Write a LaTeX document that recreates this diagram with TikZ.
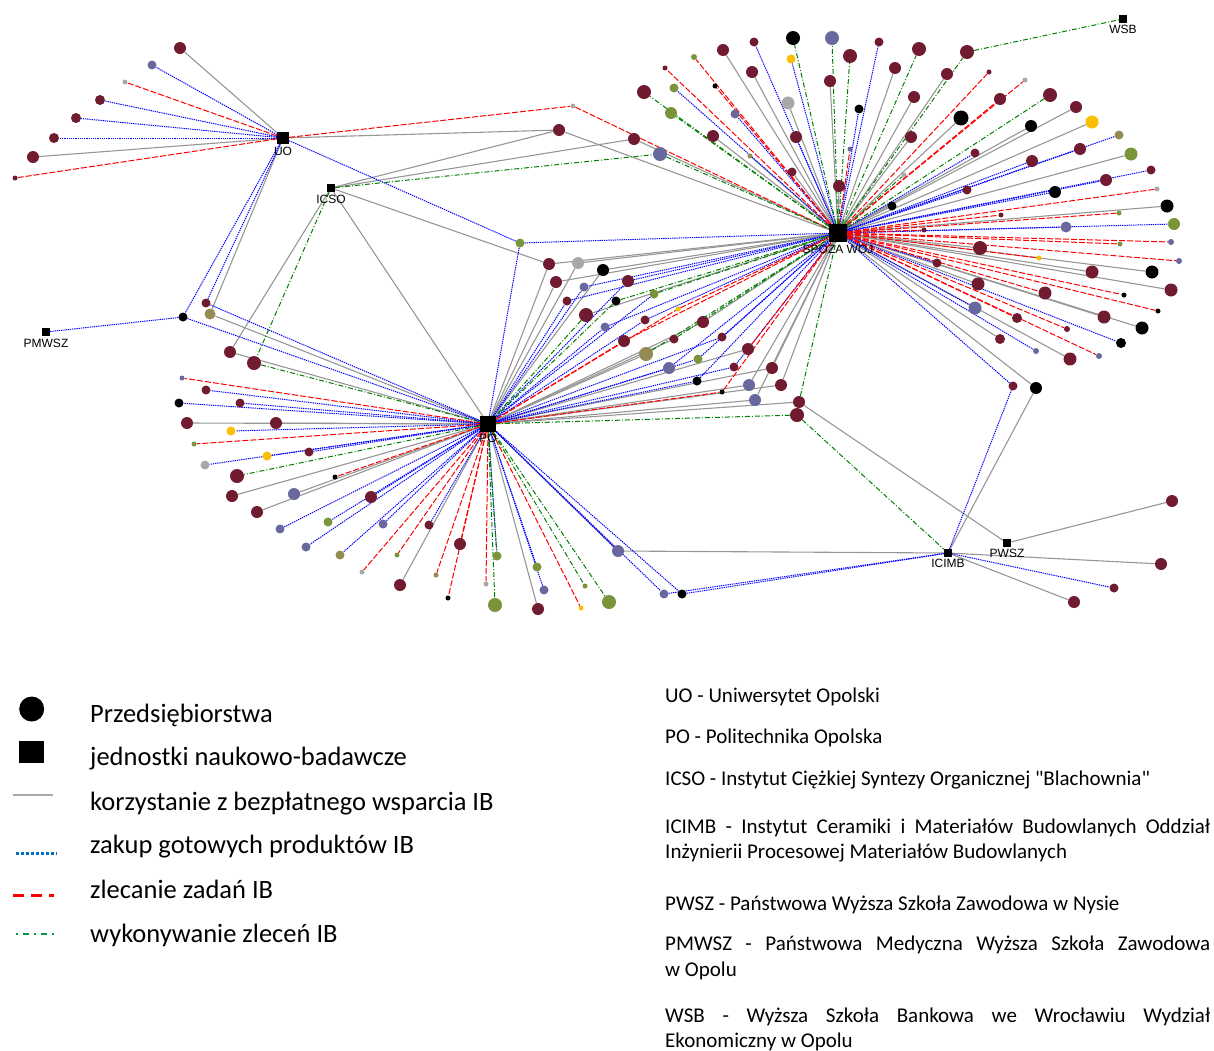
\documentclass[tikz,border=0pt]{standalone}
\usepackage{fontspec}
\setmainfont{Carlito}
\newfontfamily\notefont{Carlito}
\newfontfamily\labelfont{Liberation Sans}
\usetikzlibrary{positioning}
\usetikzlibrary{backgrounds}

\definecolor{mar}{RGB}{112,27,47}
\definecolor{sla}{RGB}{104,104,158}
\definecolor{oli}{RGB}{122,148,58}
\definecolor{kha}{RGB}{148,138,84}
\definecolor{gry}{RGB}{168,168,168}
\definecolor{gld}{RGB}{252,190,0}
\definecolor{freecol}{RGB}{150,150,150}
\definecolor{execcol}{RGB}{0,128,0}
\definecolor{keyblue}{RGB}{0,112,192}
\definecolor{keygreen}{RGB}{0,150,80}

\tikzset{
	firm/.style={circle, inner sep=0pt, minimum size=#1},
	hub/.style={rectangle, fill=black, inner sep=0pt, minimum size=#1},
	hublabel/.style={font=\labelfont\fontsize{12}{14}\selectfont, inner sep=1pt},
	freelink/.style={draw=freecol, line width=1.1pt},
	buylink/.style={draw=blue, line width=1pt, dash pattern=on 1.3pt off 0.9pt},
	orderlink/.style={draw=red, line width=1pt, dash pattern=on 6pt off 2pt},
	execlink/.style={draw=execcol, line width=1pt, dash pattern=on 5pt off 2pt on 1pt off 2pt},
	keytext/.style={font=\notefont\fontsize{26.5}{30}\selectfont, anchor=base west, inner sep=0pt},
	notetext/.style={font=\notefont\fontsize{21}{26}\selectfont, anchor=base west, inner sep=0pt}
}

\begin{document}
\begin{tikzpicture}[x=1pt, y=-1pt]
	\useasboundingbox (0,0) rectangle (1214,1050);

	% research units
	\node[hub=12] (UO) at (283,138) {};
	\node[hub=8] (ICSO) at (331,188) {};
	\node[hub=8] (PMWSZ) at (46,332) {};
	\node[hub=16] (PO) at (488,424) {};
	\node[hub=18] (SP) at (838,233) {};
	\node[hub=8] (ICIMB) at (948,553) {};
	\node[hub=8] (PWSZ) at (1007,543) {};
	\node[hub=8] (WSB) at (1123,19) {};
	\node[hublabel, below=2pt of UO] (UOl) {UO};
	\node[hublabel, below=2pt of ICSO] (ICSOl) {ICSO};
	\node[hublabel, below=2pt of PMWSZ] (PMWSZl) {PMWSZ};
	\node[hublabel, below=1pt of PO] (POl) {PO};
	\node[hublabel, below=2pt of SP] (SPl) {SPOZA WOJ};
	\node[hublabel, below=1pt of ICIMB] (ICIMBl) {ICIMB};
	\node[hublabel, below=1pt of PWSZ] (PWSZl) {PWSZ};
	\node[hublabel, below=1pt of WSB] (WSBl) {WSB};

	% firms, one list per colour: name/x/y/diameter
	\foreach \n/\x/\y/\d in {u1/180/48/12, u4/100/100/10, u5/76/118/10, u6/54/138/10, u7/33/157/12, u8/15/178/5,
		a2/559/130/12, a3/634/139/12, b2/206/303/9, b4/230/352/12, b5/254/363/14,
		m1/549/264/12, m4/556/282/12, m6/628/281/12, m7/567/301/9, m10/586/315/14, m13/645/320/9, m14/703/322/12,
		m15/624/341/12, m16/674/339/9, m17/722/337/9, m19/748/349/12, m22/734/367/9, m23/772/368/12, m26/781/385/12,
		m29/799/402/12, m30/797/415/14,
		p2/206/390/9, p4/240/403/9, p5/187/423/12, p6/276/423/12, p10/309/452/9, p12/237/476/14, p14/232/496/12,
		p16/257/512/12, p18/371/497/12, p24/429/525/9, p26/400/585/12, p28/460/544/12, p35/538/609/12,
		c1/1172/501/12, c2/1161/564/12, c3/1114/588/9, c4/1074/602/12, c5/1013/386/9,
		s1/723/50/12, s2/754/42/9, s5/879/42/9, s6/919/49/14, s7/967/52/14, s9/665/68/5, s11/752/72/12, s12/850/56/14,
		s13/830/81/12, s14/895/68/12, s15/644/92/14, s21/914/97/12, s23/713/136/12, s24/796/137/12, s27/792/172/9,
		s28/911/137/12, s29/839/186/12, s31/947/74/12, s32/989/72/5, s34/1050/95/14, s35/1000/99/12, s37/1076/107/12,
		s41/975/153/9, s42/1080/149/12, s44/1032/161/12, s45/1151/170/9, s46/1106/180/12, s47/967/190/9, s51/1001/215/5,
		s55/924/230/5, s58/980/248/14, s61/937/263/9, s62/1092/272/13, s64/978/284/13, s65/1171/290/13, s66/1045/293/13,
		s70/1017/318/10, s71/1104/317/13, s72/1067/329/6, s74/1000/339/10, s77/1070/359/13}
		\node[firm=\d, fill=mar] (\n) at (\x,\y) {};
	\foreach \n/\x/\y/\d in {u2/152/65/9, a4/660/154/14, m5/584/287/9, m11/605/327/9, m21/669/368/12, m25/749/385/12,
		m28/755/400/12, p1/182/378/5, p15/294/494/12, p17/280/529/9, p20/306/547/9, p21/383/524/9, p34/544/590/9,
		p39/618/551/12, p40/664/594/9, s4/832/38/14, s22/735/114/9, s26/850/149/5, s54/1066/227/11, s56/1171/242/6,
		s59/1179/261/6, s69/975/308/13, s76/1036/351/6, s78/1099/356/6}
		\node[firm=\d, fill=sla] (\n) at (\x,\y) {};
	\foreach \n/\x/\y/\d in {a5/520/243/9, m9/654/294/9, m20/698/359/9, p8/194/444/5, p19/328/522/9, p23/397/555/5,
		p31/497/556/9, p32/495/605/14, p33/537/567/9, p36/585/586/5, p38/609/602/14, s10/694/57/6, s16/674/88/9,
		s18/671/113/12, s43/1131/154/13, s52/1119/213/5, s53/1174/224/12, s57/1120/244/5}
		\node[firm=\d, fill=oli] (\n) at (\x,\y) {};
	\foreach \n/\x/\y/\d in {b3/210/314/11, m18/646/354/14, p22/340/555/9, p27/436/575/5, s25/750/156/5, s40/1119/135/9}
		\node[firm=\d, fill=kha] (\n) at (\x,\y) {};
	\foreach \n/\x/\y/\d in {u3/125/82/5, a1/573/106/5, m2/578/263/12, p11/205/465/9, p25/362/572/5, p30/486/584/5,
		s19/788/103/13, s33/1025/80/5, s49/1157/189/5, s79/904/175/5}
		\node[firm=\d, fill=gry] (\n) at (\x,\y) {};
	\foreach \n/\x/\y/\d in {m12/678/309/5, p7/231/431/9, p9/267/456/9, p37/581/608/5, s8/791/59/9, s38/1092/122/13,
		s60/1039/258/5}
		\node[firm=\d, fill=gld] (\n) at (\x,\y) {};
	\foreach \n/\x/\y/\d in {b1/183/317/9, m3/603/270/12, m8/616/301/9, m24/697/381/9, m27/722/392/5, p3/179/403/9,
		p13/335/477/5, p29/448/598/5, p41/682/594/9, c6/1036/388/12, s3/793/38/14, s17/715/86/5, s20/859/109/9,
		s30/892/206/9, s36/961/118/15, s39/1031/126/12, s48/1055/192/12, s50/1167/206/13, s63/1152/272/13,
		s67/1124/295/5, s68/1158/311/5, s73/1142/328/13, s75/1121/343/10}
		\node[firm=\d, fill=black] (\n) at (\x,\y) {};

	% links
	\begin{scope}[on background layer]
		\foreach \a/\b in {UO/u1, UO/u7, UO/a2, ICSO/a2, a2/SP, ICSO/a3, a3/SP, UO/b3, b3/PO, ICSO/b4, b4/PO, ICSO/PO,
			ICSO/m1, m1/PO, m1/SP, m2/PO, m2/SP, m3/PO, m3/SP, m4/PO, m4/SP, m10/SP, m14/PO, m14/SP, m16/PO, m18/PO,
			m19/PO, m23/PO, m23/SP, m25/PO, m25/SP, m26/PO, m26/SP, m28/PO, m28/SP, m29/PO, m29/PWSZ,
			p39/ICIMB, PWSZ/c1, ICIMB/c2, ICIMB/c4, ICIMB/c6, c6/SP}
			\draw[freelink] (\a) -- (\b);
		\foreach \b in {p5, p6, p14, p15, p16, p26, p35, p39}
			\draw[freelink] (PO) -- (\b);
		\foreach \b in {s1, s11, s13, s14, s19, s21, s23, s25, s27, s28, s29, s30, s31, s36, s37, s38, s39, s43, s50,
			s58, s62, s63, s64, s65, s71, s73, s74, s77}
			\draw[freelink] (SP) -- (\b);

		\foreach \a/\b in {UO/u2, UO/u4, UO/u5, UO/u6, UO/a5, a5/SP, a5/PO, UO/b1, PMWSZ/b1, b1/PO, UO/b2, b2/PO,
			m9/PO, p40/ICIMB, p41/ICIMB, ICIMB/c3, ICIMB/c5, c5/SP}
			\draw[buylink] (\a) -- (\b);
		\foreach \b in {m5, m6, m7, m11, m13, m17, m20, m21, m22, m24}
			{\draw[buylink] (PO) -- (\b); \draw[buylink] (\b) -- (SP);}
		\foreach \b in {p2, p3, p4, p7, p9, p10, p11, p17, p18, p19, p20, p21, p22, p24, p31, p33, p34, p39, p40, p41}
			\draw[buylink] (PO) -- (\b);
		\foreach \b in {s2, s5, s8, s16, s20, s22, s24, s40, s41, s42, s44, s45, s46, s47, s48, s53, s54, s61, s69,
			s75, s76}
			\draw[buylink] (SP) -- (\b);

		\foreach \a/\b in {UO/u3, UO/u8, UO/a1, a1/SP, m19/SP}
			\draw[orderlink] (\a) -- (\b);
		\foreach \b in {m12, m15, m27}
			{\draw[orderlink] (PO) -- (\b); \draw[orderlink] (\b) -- (SP);}
		\foreach \b in {p1, p8, p13, p23, p25, p27, p28, p29, p30, p37}
			\draw[orderlink] (PO) -- (\b);
		\foreach \b in {s9, s10, s17, s26, s32, s33, s35, s49, s51, s52, s55, s56, s57, s59, s60, s66, s67, s68, s70,
			s72, s78}
			\draw[orderlink] (SP) -- (\b);

		\foreach \a/\b in {ICSO/a4, a4/SP, ICSO/b5, b5/PO, m8/PO, m8/SP, m9/SP, m10/PO, m16/SP, m18/SP, m29/SP,
			m30/PO, m30/ICIMB, s7/WSB}
			\draw[execlink] (\a) -- (\b);
		\foreach \b in {p12, p31, p32, p36, p38}
			\draw[execlink] (PO) -- (\b);
		\foreach \b in {s3, s4, s6, s7, s12, s15, s18, s34, s79}
			\draw[execlink] (SP) -- (\b);
	\end{scope}

	% key
	\node[firm=25, fill=black] (kfirm) at (31.7,709) {};
	\node[hub=22, minimum width=25] (kunit) at (31.7,752) {};
	\coordinate (kfreeA) at (13,795);   \coordinate (kfreeB) at (53,795);
	\coordinate (kbuyA) at (16,853);    \coordinate (kbuyB) at (57,853);
	\coordinate (korderA) at (13,895);  \coordinate (korderB) at (54,895);
	\coordinate (kexecA) at (16,934);   \coordinate (kexecB) at (57,934);
	\draw[gry, line width=2.5pt] (kfreeA) -- (kfreeB);
	\draw[keyblue, line width=3pt, dash pattern=on 2.5pt off 2.5pt] (kbuyA) -- (kbuyB);
	\draw[red, line width=3pt, dash pattern=on 11pt off 7pt] (korderA) -- (korderB);
	\draw[keygreen, line width=2.5pt, dash pattern=on 2pt off 5pt on 6pt off 5pt] (kexecA) -- (kexecB);
	\node[keytext] (kt1) at (90,722) {Przedsiębiorstwa};
	\node[keytext] (kt2) at (90,765) {jednostki naukowo-badawcze};
	\node[keytext] (kt3) at (90,810) {korzystanie z bezpłatnego wsparcia IB};
	\node[keytext] (kt4) at (90,853) {zakup gotowych produktów IB};
	\node[keytext] (kt5) at (90,898) {zlecanie zadań IB};
	\node[keytext] (kt6) at (90,942) {wykonywanie zleceń IB};

	% names of the units
	\node[notetext] (nt1) at (665,702) {UO - Uniwersytet Opolski};
	\node[notetext] (nt2) at (665,743) {PO - Politechnika Opolska};
	\node[notetext] (nt3) at (665,785) {ICSO - Instytut Ciężkiej Syntezy Organicznej "Blachownia"};
	\node[notetext] (nt4) at (665,833) {\makebox[545pt][s]{ICIMB - Instytut Ceramiki i Materiałów Budowlanych Oddział}};
	\node[notetext] (nt5) at (665,858) {Inżynierii Procesowej Materiałów Budowlanych};
	\node[notetext] (nt6) at (665,910) {PWSZ - Państwowa Wyższa Szkoła Zawodowa w Nysie};
	\node[notetext] (nt7) at (665,950) {\makebox[545pt][s]{PMWSZ - Państwowa Medyczna Wyższa Szkoła Zawodowa}};
	\node[notetext] (nt8) at (665,976) {w Opolu};
	\node[notetext] (nt9) at (665,1022) {\makebox[545pt][s]{WSB - Wyższa Szkoła Bankowa we Wrocławiu Wydział}};
	\node[notetext] (nt10) at (665,1047) {Ekonomiczny w Opolu};
\end{tikzpicture}
\end{document}
